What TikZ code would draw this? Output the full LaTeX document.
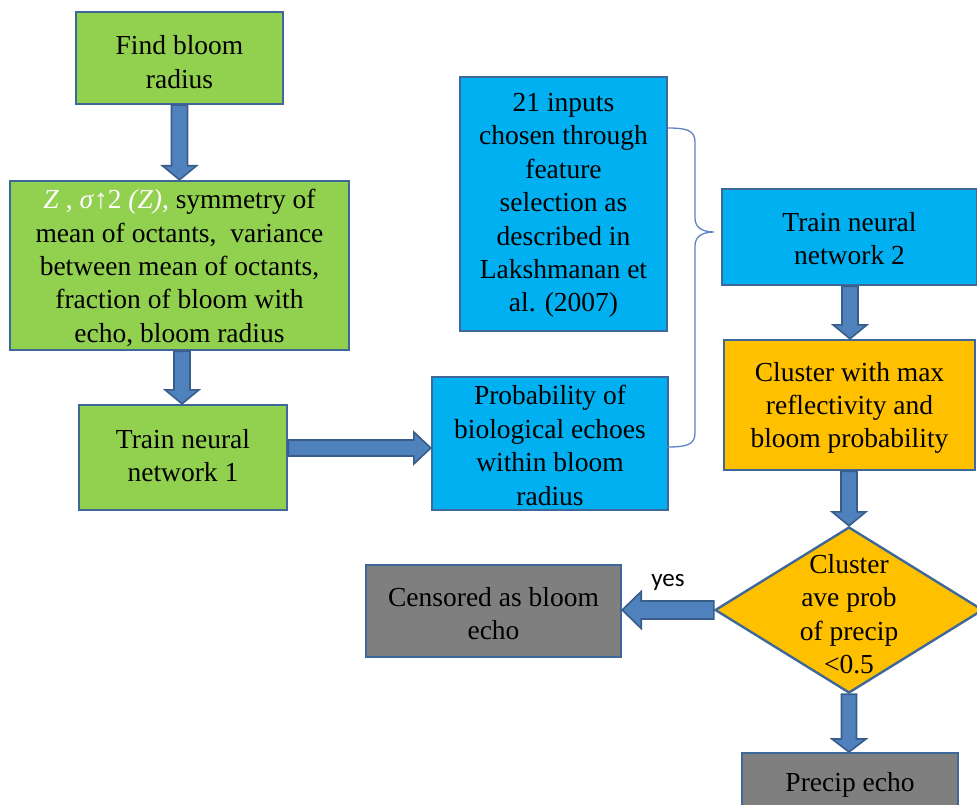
\documentclass[tikz,border=0pt]{standalone}
\usepackage{fontspec}
\setmainfont{Liberation Serif}
\newfontfamily\yesfont{Carlito}
\usetikzlibrary{calc,shapes.geometric}

\definecolor{boxgreen}{HTML}{92D050}
\definecolor{boxblue}{HTML}{00B0F0}
\definecolor{boxorange}{HTML}{FFC000}
\definecolor{boxgray}{HTML}{7F7F7F}
\definecolor{boxline}{HTML}{3E6899}
\definecolor{arrfill}{HTML}{4F81BD}
\definecolor{arrline}{HTML}{385D8A}
\definecolor{bracecol}{HTML}{5B85C0}

% block arrow from #1 to #2: half shaft width #3, half head width #4, head length #5 (pt)
\newcommand\blockarr[5]{%
  \coordinate (bas) at #1;
  \coordinate (bat) at #2;
  \coordinate (bah) at ($(bat)!#5pt!(bas)$);
  \draw[blockarrow]
    ($(bas)!#3pt!90:(bat)$) -- ($(bah)!#3pt!-90:(bas)$) -- ($(bah)!#4pt!-90:(bas)$)
    -- (bat)
    -- ($(bah)!#4pt!90:(bas)$) -- ($(bah)!#3pt!90:(bas)$) -- ($(bas)!#3pt!-90:(bat)$) -- cycle;}

\begin{document}
\begin{tikzpicture}[x=1pt,y=-1pt,
  box/.style={draw=boxline, line width=2.4pt, inner sep=0pt},
  greenbox/.style={box, fill=boxgreen},
  bluebox/.style={box, fill=boxblue},
  orangebox/.style={box, fill=boxorange},
  graybox/.style={box, fill=boxgray},
  blockarrow/.style={draw=arrline, fill=arrfill, line width=1.6pt, line join=miter},
  txt/.style={align=center, inner sep=0pt, font=\fontsize{27.5}{33.4}\selectfont}]

\useasboundingbox (0,0) rectangle (977,805);

% process boxes
\node[greenbox, minimum width=207pt, minimum height=92pt] (find) at (179.5,58) {};
\node[greenbox, minimum width=339pt, minimum height=169pt] (feat) at (179.5,265.5) {};
\node[greenbox, minimum width=208pt, minimum height=105pt] (nn1) at (183,457.5) {};
\node[bluebox, minimum width=236pt, minimum height=133pt] (prob) at (550,443.5) {};
\node[bluebox, minimum width=207pt, minimum height=254pt] (inputs) at (563.5,204) {};
\node[bluebox, minimum width=255pt, minimum height=96pt] (nn2) at (849.5,237) {};
\node[orangebox, minimum width=251pt, minimum height=130pt] (clus) at (849.5,405) {};
\node[box, fill=boxorange, diamond,
  minimum width=268pt, minimum height=166pt] (dec) at (849,610) {};
\node[graybox, minimum width=255pt, minimum height=92pt] (cens) at (493.5,611) {};
\node[graybox, minimum width=216pt, minimum height=64pt, anchor=north] (precip) at (850,752) {};

% box texts
\node[txt] (find-t) at (179.5,62) {Find bloom\\radius};
\node[txt] (feat-t) at (179.5,268)
  {\textcolor{white}{\textit{Z} , \textit{σ}↑2 \textit{(Z)},} symmetry of\\
   mean of octants,\ \ variance\\
   between mean of octants,\\
   fraction of bloom with\\
   echo, bloom radius};
\node[txt] (nn1-t) at (183,455.5) {Train neural\\network 1};
\node[txt] (prob-t) at (550,445.5) {Probability of\\biological echoes\\within bloom\\radius};
\node[txt] (inputs-t) at (563.5,205.5)
  {21 inputs\\chosen through\\feature\\selection as\\described in\\Lakshmanan et\\al. (2007)};
\node[txt] (nn2-t) at (849.5,238.5) {Train neural\\network 2};
\node[txt] (clus-t) at (849.5,408) {Cluster with max\\reflectivity and\\bloom probability};
\node[txt] (dec-t) at (849,614) {Cluster\\ave prob\\of precip\\<0.5};
\node[txt] (cens-t) at (493.5,613.5) {Censored as bloom\\echo};
\node[txt] (precip-t) at (850,784.5) {Precip echo};

% brace grouping the two inputs of network 2
\coordinate (brtop) at (667,128);
\coordinate (brbot) at (667,447);
\coordinate (brtip) at (714,232);
\draw[bracecol, line width=1.3pt]
  (brtop) .. controls (686,128) and (695,130) .. (695,142)
  -- (695,218) .. controls (695,228) and (703,232) .. (brtip)
  (brtip) .. controls (703,232) and (695,236) .. (695,246)
  -- (695,433) .. controls (695,445) and (686,447) .. (brbot);

% flow arrows
\blockarr{(find.south)}{(find.south |- feat.north)}{8}{17}{14}
\blockarr{(feat.south -| 182,0)}{(nn1.north -| 182,0)}{8}{17}{14}
\blockarr{(nn1.east |- 0,448)}{(prob.west |- 0,448)}{8}{16}{17}
\blockarr{(nn2.south -| 850,0)}{(clus.north -| 850,0)}{8}{17}{14}
\blockarr{(clus.south -| 849,0)}{(dec.north)}{8}{17}{14}
\blockarr{(dec.west)}{(cens.east |- dec.west)}{9}{18.5}{19}
\blockarr{(dec.south)}{(precip.north -| dec.south)}{7.5}{17}{13}

\node[font=\yesfont\fontsize{25}{30}\selectfont, inner sep=0pt] (yes) at (668,582) {yes};
\end{tikzpicture}
\end{document}
